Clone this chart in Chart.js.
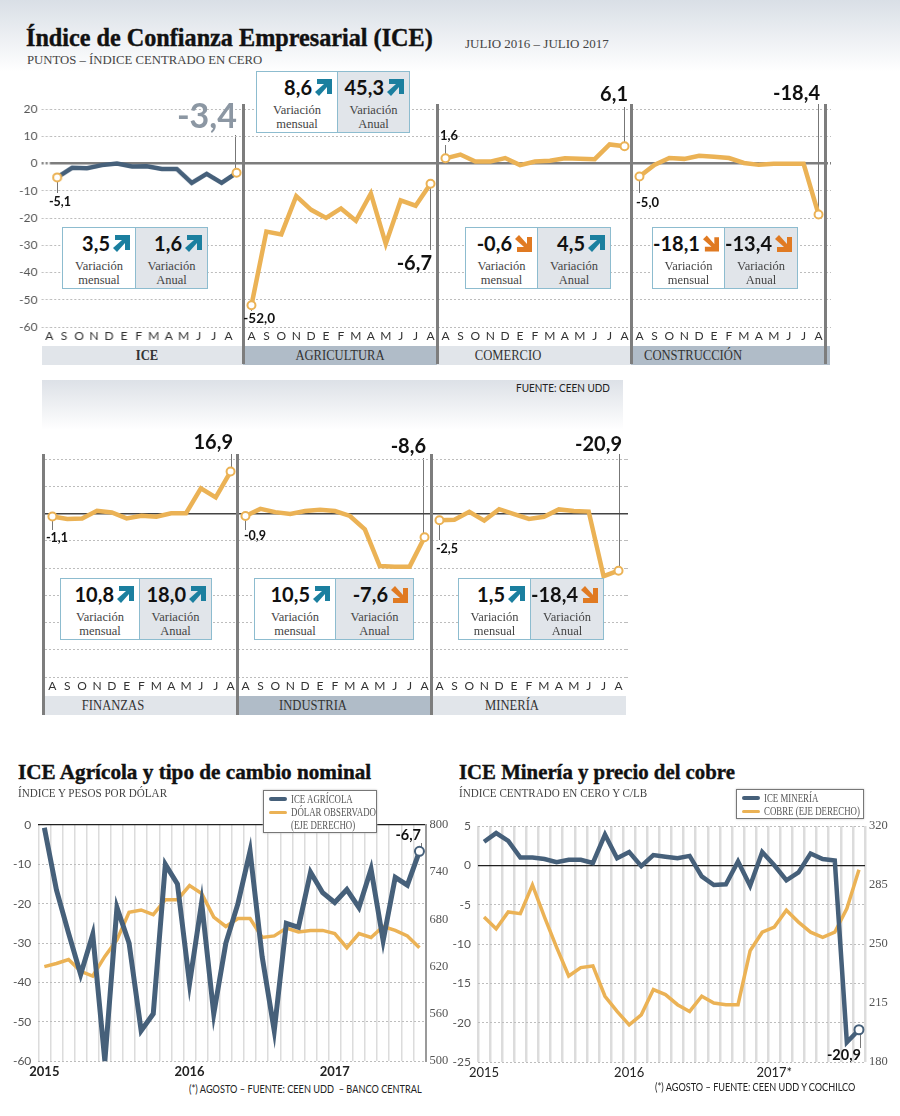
<!DOCTYPE html>
<html>
<head>
<meta charset="utf-8">
<script src="https://cdn.jsdelivr.net/npm/chart.js@4"></script>
<style>
  body { margin: 0; background: #fff; }
  #page { position: relative; width: 900px; height: 1116px; overflow: hidden; background: #fff; }
  #page > * { position: absolute; }
  canvas { z-index: 2; }
  .serif { font-family: "Liberation Serif", serif; color: #444; white-space: nowrap; }
  .title { font-family: "Liberation Serif", serif; font-weight: bold; color: #111; white-space: nowrap; -webkit-text-stroke: 0.4px #111; z-index: 4; }
  .sans { font-family: Lato, sans-serif; color: #222; white-space: nowrap; z-index: 4; }
  .num { font-family: Lato, sans-serif; font-weight: bold; color: #111; white-space: nowrap; z-index: 4; line-height: 1; }
  .band { z-index: 0; font-family: "Liberation Serif", serif; font-size: 14px; color: #333; line-height: 19px; text-align: center; }
  .divider { width: 2.5px; background: #7d7d7d; z-index: 3; }
  .leader { width: 1px; background: #777; z-index: 1; }
  .box { z-index: 3; display: flex; box-sizing: border-box; border: 1px solid #8dbccf; background: #fff; height: 62px; }
  .cell { height: 100%; box-sizing: border-box; }
  .cell + .cell { border-left: 1px solid #8dbccf; background: #e1e5ea; }
  .top { display: flex; justify-content: flex-end; align-items: center; gap: 3px; height: 30px; padding-right: 5px; font-family: Lato, sans-serif; font-weight: bold; font-size: 20px; color: #111; white-space: nowrap; }
  .cap { font-family: "Liberation Serif", serif; font-size: 12.5px; line-height: 14px; color: #444; text-align: center; }
  .legend { z-index: 3; background: #fff; border: 1px solid #777; box-shadow: 0 0 2px #bbb; box-sizing: border-box; font-family: "Liberation Serif", serif; font-size: 11.5px; color: #555; line-height: 13.5px; }
  .legend i { position: absolute; left: 5px; height: 4px; width: 18px; border-radius: 2px; }
  .legend span { position: absolute; left: 27px; white-space: nowrap; transform: scaleX(.77); transform-origin: left; }
</style>
</head>
<body>
<div id="page"></div>
<script>
const meses = ['A', 'S', 'O', 'N', 'D', 'E', 'F', 'M', 'A', 'M', 'J', 'J', 'A'];
const iceGeneral = [-5.1, -1.6, -1.7, -0.6, 0, -1.1, -1, -2, -2, -7.1, -3.8, -7.1, -3.4];
const agricultura = [-52, -25, -26, -12, -17, -20, -16.5, -21, -11, -29.5, -13.5, -15.5, -7.4];
const comercio = [1.9, 3.3, 0.7, 0.7, 2, -0.6, 0.7, 1, 1.9, 1.7, 1.6, 7, 6.3];
const construccion = [-4.8, -0.5, 2, 1.7, 2.8, 2.5, 2, 0.2, -0.5, -0.1, -0.1, -0.1, -18.7];
const finanzas = [-1.1, -2, -1.8, 1, 0.4, -1.8, -0.8, -1.2, 0.1, 0.1, 9.2, 5.9, 15.4];
const industria = [-0.9, 1.7, 0.5, -0.2, 0.9, 1.4, 0.9, -0.9, -5.8, -19.3, -19.5, -19.5, -8.7];
const mineria = [-2.5, -2.3, 0.6, -2.6, 1.6, -0.2, -2, -1.2, 1.5, 0.9, 0.7, -23, -21];

const anios = ['2015', '', '', '', '', '', '', '', '', '', '', '',
  '2016', '', '', '', '', '', '', '', '', '', '', '',
  '2017', '', '', '', '', '', '', ''];
const aniosCobre = ['2015', '', '', '', '', '', '', '', '', '', '', '',
  '2016', '', '', '', '', '', '', '', '', '', '', '',
  '2017*', '', '', '', '', '', '', ''];
const iceAgricola = [-0.7, -16.5, -27.5, -38, -27.8, -60, -21, -30, -52.3, -48, -10, -15,
  -40.3, -19.7, -48, -30, -20, -6.6, -33.5, -52.3, -25, -26, -12, -17.2,
  -19.7, -16.4, -21, -11.2, -29.4, -13.3, -15.3, -6.7];
const dolarObservado = [620, 624, 629, 614, 608, 633, 654, 689, 692, 686, 705, 705,
  723, 713, 683, 671, 681, 681, 657, 659, 669, 664, 666, 666,
  662, 644, 662, 657, 671, 666, 659, 644];
const iceMineria = [3, 4.1, 3.1, 1, 1, 0.8, 0.4, 0.7, 0.7, 0.3, 3.9, 0.9,
  1.7, -0.1, 1.3, 1.1, 0.9, 1.2, -1.4, -2.5, -2.4, 0.5, -2.6, 1.7,
  0, -1.9, -0.9, 1.5, 0.8, 0.6, -22.5, -20.9];
const cobre = [266, 259, 269, 268, 285, 266, 248, 231, 236, 237, 219, 210,
  202, 208, 223, 220, 214, 210, 219, 215, 214, 214, 246, 257,
  260, 270, 263, 257, 254, 257, 271, 294];

const AZUL = '#46607a';
const NARANJA = '#ebb255';
const GRIS_GRID = '#bdbdbd';
const page = document.getElementById('page');

function el(cls, left, top, html, extra) {
  const d = document.createElement('div');
  d.className = cls;
  d.style.left = left + 'px';
  d.style.top = top + 'px';
  if (html) d.innerHTML = html;
  if (extra) Object.assign(d.style, extra);
  page.appendChild(d);
  return d;
}

function canvasAt(left, top, w, h) {
  const c = document.createElement('canvas');
  c.width = w;
  c.height = h;
  c.style.left = left + 'px';
  c.style.top = top + 'px';
  c.style.width = w + 'px';
  c.style.height = h + 'px';
  page.appendChild(c);
  return c.getContext('2d');
}

// rings only on the first and last point of a small panel
function rings(n) {
  return ctx => (ctx.dataIndex === 0 || ctx.dataIndex === n - 1) ? 4 : 0;
}

function sinPadding(s) {
  s.paddingLeft = 0; s.paddingRight = 0; s.paddingTop = 0; s.paddingBottom = 0;
}

function panel(left, top, width, values, color, opts) {
  opts = opts || {};
  const axisW = opts.axisW || 0;
  const right = opts.rightTick || 0;
  const ctx = canvasAt(left - axisW, top - 10, width + axisW + right, 246);
  new Chart(ctx, {
    type: 'line',
    data: {
      labels: meses,
      datasets: [{
        data: values,
        borderColor: color,
        borderWidth: 4.5,
        tension: 0,
        clip: false,
        pointRadius: rings(values.length),
        pointBackgroundColor: '#fff',
        pointBorderColor: NARANJA,
        pointBorderWidth: 2
      }]
    },
    options: {
      responsive: false,
      animation: false,
      layout: { autoPadding: false, padding: { top: 10 } },
      plugins: { legend: { display: false }, tooltip: { enabled: false } },
      scales: {
        x: {
          offset: true,
          grid: { display: false, drawTicks: false },
          border: { display: false },
          afterFit: s => { s.height = 18; sinPadding(s); },
          ticks: {
            autoSkip: false, maxRotation: 0, padding: 2,
            labelOffset: opts.labelOffset || 0,
            color: '#333',
            font: { family: 'Lato', size: 12 }
          }
        },
        y: {
          min: -60, max: 20,
          position: right ? 'right' : 'left',
          afterFit: s => { if (axisW) s.width = axisW; sinPadding(s); },
          border: {
            display: false,
            dash: c => c.tick && c.tick.value === 0 ? [] : [2, 2]
          },
          grid: {
            color: c => c.tick.value === 0 ? opts.zero : GRIS_GRID,
            lineWidth: c => c.tick.value === 0 ? opts.zeroW : 1,
            drawTicks: !!(axisW || right),
            tickLength: axisW ? 8 : right,
            tickColor: c => c.tick.value === 0 ? opts.zero : GRIS_GRID,
            tickWidth: c => c.tick.value === 0 ? opts.zeroW : 1,
            tickBorderDash: [2, 2]
          },
          ticks: {
            display: !!axisW,
            stepSize: 10,
            padding: 4,
            color: '#555',
            font: { family: 'Lato', size: 12 }
          }
        }
      }
    }
  });
}

const fila1 = { zero: '#7d7d7d', zeroW: 2.5 };
const fila2 = { zero: '#444', zeroW: 1.5 };
panel(49.5, 109, 194, iceGeneral, AZUL, { ...fila1, axisW: 49.5, labelOffset: -8 });
panel(243.5, 109, 194, agricultura, NARANJA, fila1);
panel(437.5, 109, 194, comercio, NARANJA, fila1);
panel(631.5, 109, 194, construccion, NARANJA, { ...fila1, rightTick: 5 });
panel(44.5, 459, 193, finanzas, NARANJA, fila2);
panel(237.5, 459, 194, industria, NARANJA, fila2);
panel(431.5, 459, 194, mineria, NARANJA, { ...fila2, rightTick: 2 });

function doble(left, top, width, height, labels, azul, naranja, cfg) {
  const ctx = canvasAt(left, top - 10, width, height + 30);
  new Chart(ctx, {
    type: 'line',
    data: {
      labels: labels,
      datasets: [{
        data: azul, yAxisID: 'y', borderColor: AZUL, borderWidth: cfg.azulW, tension: 0, clip: false,
        pointRadius: c => c.dataIndex === azul.length - 1 ? 4.5 : 0,
        pointBackgroundColor: '#fff', pointBorderColor: AZUL, pointBorderWidth: 2
      }, {
        data: naranja, yAxisID: 'y2', borderColor: NARANJA, borderWidth: 3.5, tension: 0, clip: false,
        pointRadius: 0
      }]
    },
    options: {
      responsive: false,
      animation: false,
      layout: { autoPadding: false, padding: { top: 10 } },
      plugins: { legend: { display: false }, tooltip: { enabled: false } },
      scales: {
        x: {
          offset: true,
          afterFit: s => { s.height = 20; sinPadding(s); },
          border: { display: false },
          grid: { offset: true, color: '#dcdcdc', lineWidth: cfg.gridW, drawTicks: false },
          ticks: {
            autoSkip: false, maxRotation: 0, padding: 3,
            color: '#222',
            font: { family: 'Lato', size: 13, weight: cfg.xBold }
          }
        },
        y: {
          min: cfg.min, max: cfg.max,
          afterFit: s => { s.width = cfg.leftW; sinPadding(s); },
          border: { display: false, dash: c => c.tick && c.tick.value === cfg.zero ? [] : [2, 2] },
          grid: {
            color: c => c.tick.value === cfg.zero ? '#222' : GRIS_GRID,
            lineWidth: c => c.tick.value === cfg.zero ? 1.2 : 1,
            drawTicks: false
          },
          ticks: { stepSize: cfg.step, padding: cfg.pad, color: '#555', font: { family: 'Lato', size: 12 } }
        },
        y2: {
          position: 'right',
          min: cfg.min2, max: cfg.max2,
          afterFit: s => { s.width = width - cfg.leftW - cfg.plotW; sinPadding(s); },
          border: { display: cfg.rightLine, color: '#9a9a9a', width: 2 },
          grid: { display: false, drawTicks: false },
          ticks: { stepSize: cfg.step2, padding: 4, color: '#555', font: { family: 'Liberation Serif', size: 12.5 } }
        }
      }
    }
  });
}

doble(0, 825, 450, 236, anios, iceAgricola, dolarObservado,
  { min: -60, max: 0, step: 10, zero: 0, min2: 500, max2: 800, step2: 60, leftW: 38.3, plotW: 387.2, pad: 7, rightLine: true, xBold: 'bold', azulW: 5, gridW: 1.5 });
doble(445, 826, 455, 236, aniosCobre, iceMineria, cobre,
  { min: -25, max: 5, step: 5, zero: 0, min2: 180, max2: 320, step2: 35, leftW: 33, plotW: 387, pad: 7, rightLine: false, xBold: 'normal', azulW: 4.5, gridW: 2.5 });

// header gradients
el('', 0, 0, '', { width: '900px', height: '72px', background: 'linear-gradient(#d9dfe6, #fff)', zIndex: 0 });
el('', 42, 380, '', { width: '581px', height: '50px', background: 'linear-gradient(#dde1e7, #fff)', zIndex: 0 });

function texto(cls, left, top, str, size, sx, extra) {
  return el(cls, left, top, str, Object.assign({
    fontSize: size + 'px',
    transform: 'scaleX(' + (sx || 1) + ')',
    transformOrigin: 'left'
  }, extra || {}));
}

texto('title', 26, 24, 'Índice de Confianza Empresarial (ICE)', 24.2);
texto('serif', 27, 52, 'PUNTOS – ÍNDICE CENTRADO EN CERO', 13.2, 0.967, { zIndex: 4 });
texto('serif', 465, 36, 'JULIO 2016 – JULIO 2017', 13, 1, { zIndex: 4 });
texto('sans', 516, 382, 'FUENTE: CEEN UDD', 10.5, 0.95);

texto('title', 18, 760, 'ICE Agrícola y tipo de cambio nominal', 21.2);
texto('serif', 18, 786, 'ÍNDICE Y PESOS POR DÓLAR', 12, 0.925, { zIndex: 4 });
texto('title', 459, 760, 'ICE Minería y precio del cobre', 20.8);
texto('serif', 459, 786, 'ÍNDICE CENTRADO EN CERO Y C/LB', 12, 0.925, { zIndex: 4 });
texto('sans', 189, 1083, '(*) AGOSTO – FUENTE: CEEN UDD&nbsp; – BANCO CENTRAL', 10.5, 0.875);
texto('sans', 655, 1081, '(*) AGOSTO – FUENTE: CEEN UDD Y COCHILCO', 10.5, 0.87);

// bands under the panels
function banda(left, top, w, osc) {
  el('band', left, top, '', {
    width: w + 'px', height: '19px',
    background: osc ? '#b0bcc8' : '#e1e5ea'
  });
}
banda(42, 346, 201, false);
banda(243, 346, 194, true);
banda(437, 346, 194, false);
banda(631, 346, 199, true);
banda(42, 696, 195, false);
banda(237, 696, 194, true);
banda(431, 696, 195, false);

function etiquetaBanda(cx, top, label, bold) {
  el('band', cx - 70, top, label, { width: '140px', zIndex: 1, fontWeight: bold ? 'bold' : 'normal', transform: 'scaleX(.9)' });
}
etiquetaBanda(147, 346, 'ICE', true);
etiquetaBanda(340, 346, 'AGRICULTURA');
etiquetaBanda(508, 346, 'COMERCIO');
etiquetaBanda(693, 346, 'CONSTRUCCIÓN');
etiquetaBanda(113, 696, 'FINANZAS');
etiquetaBanda(313, 696, 'INDUSTRIA');
etiquetaBanda(512, 696, 'MINERÍA');

[243, 437, 631, 825].forEach(x => el('divider', x - 1, 104, '', { height: '260px' }));
[43, 237, 431].forEach(x => el('divider', x - 1, 454, '', { height: '261px' }));

// thin lines from the end points to their labels
function leader(x, y1, y2) {
  el('leader', x - 0.5, y1, '', { height: (y2 - y1) + 'px' });
}
leader(57, 177, 193); leader(235.7, 135, 172);
leader(251, 305, 311); leader(430, 183, 250);
leader(445, 145, 157); leader(624.7, 107, 145);
leader(639, 176, 193); leader(818.3, 104, 213);
leader(52, 516, 530); leader(231, 454, 471);
leader(245, 516, 530); leader(423, 458, 537);
leader(439, 517, 540); leader(619, 454, 570);
leader(421, 843, 851); leader(860, 1029, 1048);

function flecha(dir) {
  const col = dir === 'up' ? '#1b7f9f' : '#e07a22';
  const t = dir === 'up' ? '' : ' transform="matrix(1 0 0 -1 0 17)"';
  return '<svg width="17" height="17" viewBox="0 0 17 17"><path fill="' + col + '"' + t +
    ' d="M2 0H17V15H12V8L4 17 0 13 9 5H2Z"/></svg>';
}

function caja(left, top, w1, w2, a, dirA, b, dirB) {
  const cell = (w, val, dir, cap) =>
    '<div class="cell" style="width:' + w + 'px"><div class="top"><span>' + val + '</span>' + flecha(dir) +
    '</div><div class="cap" style="margin-top:1px">Variación<br>' + cap + '</div></div>';
  el('box', left, top, cell(w1, a, dirA, 'mensual') + cell(w2, b, dirB, 'Anual'));
}
caja(62, 227, 72, 72, '3,5', 'up', '1,6', 'up');
caja(256, 71, 80, 72, '8,6', 'up', '45,3', 'up');
caja(465, 227, 71, 73, '-0,6', 'down', '4,5', 'up');
caja(652, 227, 71, 73, '-18,1', 'down', '-13,4', 'down');
caja(60, 578, 78, 72, '10,8', 'up', '18,0', 'up');
caja(254, 578, 80, 78, '10,5', 'up', '-7,6', 'down');
caja(458, 578, 71, 73, '1,5', 'up', '-18,4', 'down');

// value labels, right edge anchored
function valor(right, cy, str, size, color) {
  el('num', right - 80, cy - size / 2, str, { width: '80px', textAlign: 'right', fontSize: size + 'px', color: color || '#111' });
}
valor(237, 115, '-3,4', 34, '#8c97a3');
valor(71, 202, '-5,1', 12.5);
valor(275, 319, '-52,0', 13.5);
valor(432, 262, '-6,7', 20);
valor(458, 135, '1,6', 13);
valor(628, 93, '6,1', 20);
valor(659, 202, '-5,0', 13);
valor(820, 92, '-18,4', 20);
valor(233, 441, '16,9', 20);
valor(426, 445, '-8,6', 20);
valor(622, 443, '-20,9', 20);
valor(68, 538, '-1,1', 12.5);
valor(266, 536, '-0,9', 12.5);
valor(458, 549, '-2,5', 12.5);
valor(421, 835, '-6,7', 14.5);
valor(861, 1055, '-20,9', 14.5);

// legends
const lg1 = el('legend', 263, 790, '', { width: '114px', height: '43px' });
lg1.innerHTML = '<i style="top:6px;background:' + AZUL + '"></i><span style="top:2px">ICE AGRÍCOLA</span>' +
  '<i style="top:20px;height:3px;background:' + NARANJA + '"></i><span style="top:15px">DÓLAR OBSERVADO</span>' +
  '<span style="top:28px">(EJE DERECHO)</span>';
const lg2 = el('legend', 736, 789, '', { width: '128px', height: '30px' });
lg2.innerHTML = '<i style="top:6px;background:' + AZUL + '"></i><span style="top:2px">ICE MINERÍA</span>' +
  '<i style="top:20px;height:3px;background:' + NARANJA + '"></i><span style="top:15px">COBRE (EJE DERECHO)</span>';
</script>
</body>
</html>
